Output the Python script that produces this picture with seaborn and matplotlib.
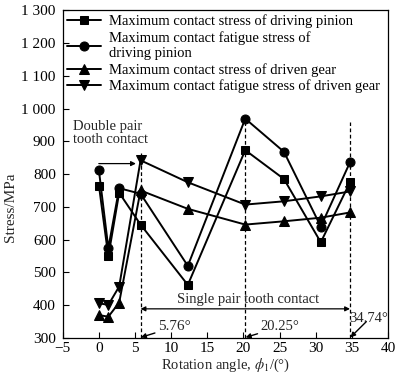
import matplotlib
matplotlib.use("Agg")
import matplotlib.pyplot as plt
import seaborn as sns
import pandas as pd
from matplotlib.ticker import FixedLocator, FixedFormatter

sns.set_theme(style="ticks")
plt.rcParams['font.family'] = ['Liberation Serif', 'DejaVu Serif']
plt.rcParams['mathtext.fontset'] = 'stix'

# ---- data ----
angles = [0, 1.3, 2.8, 5.76, 12.3, 20.25, 25.6, 30.7, 34.74]
pinion_contact = [765, 549, 743, 646, 462, 873, 785, 592, 775]
pinion_fatigue = [811, 574, 757, 740, 520, 969, 868, 640, 836]
gear_contact = [370, 365, 408, 750, 694, 646, 656, 667, 683]
gear_fatigue = [406, 401, 457, 842, 775, 707, 717, 732, 747]

labels = [
    "Maximum contact stress of driving pinion",
    "Maximum contact fatigue stress of\ndriving pinion",
    "Maximum contact stress of driven gear",
    "Maximum contact fatigue stress of driven gear",
]
markers = ["s", "o", "^", "v"]
msizes = [5.5, 6.5, 7, 7]
series = [pinion_contact, pinion_fatigue, gear_contact, gear_fatigue]

boundary_angles = [5.76, 20.25, 34.74]
boundary_tops = [868, 969, 960]
boundary_labels = ["5.76°", "20.25°", "34.74°"]

yticks = [300, 400, 500, 600, 700, 800, 900, 1000, 1100, 1200, 1300]
ytick_labels = ["300", "400", "500", "600", "700", "800", "900",
                "1 000", "1 100", "1 200", "1 300"]
xticks = [-5, 0, 5, 10, 15, 20, 25, 30, 35, 40]

fig = plt.figure(figsize=(4.0, 3.76), dpi=100)
ax = fig.add_axes([0.157, 0.101, 0.813, 0.872])

for vals, lab, mk, ms in zip(series, labels, markers, msizes):
    df = pd.DataFrame({"angle": angles, "stress": vals})
    sns.lineplot(data=df, x="angle", y="stress", ax=ax, color="black",
                 marker=mk, markersize=ms, markeredgecolor="black",
                 linewidth=1.4, label=lab, sort=False)

# dashed boundaries
for xa, top in zip(boundary_angles, boundary_tops):
    ax.plot([xa, xa], [300, top], color="black", linestyle=(0, (3, 2)),
            linewidth=0.9, zorder=1)

fs = 10.5
# Double pair annotation
ax.text(-3.6, 964, "Double pair\ntooth contact", fontsize=fs, va="top", ha="left",
        linespacing=1.0)
ax.annotate("", xy=(5.5, 832), xytext=(-0.4, 832),
            arrowprops=dict(arrowstyle="-|>", color="black", lw=0.9,
                            mutation_scale=7))
# Single pair annotation
ax.annotate("", xy=(5.76, 389), xytext=(34.74, 389),
            arrowprops=dict(arrowstyle="<|-|>", color="black", lw=0.9,
                            mutation_scale=7, shrinkA=0, shrinkB=0))
ax.text(20.6, 397, "Single pair tooth contact", fontsize=fs, ha="center", va="bottom")

# angle labels with arrows
ax.annotate(boundary_labels[0], xy=(5.8, 302), xytext=(8.2, 334),
            fontsize=11, va="center", ha="left",
            arrowprops=dict(arrowstyle="-|>", color="black", lw=1.0,
                            mutation_scale=7, shrinkA=0, shrinkB=0))
ax.annotate(boundary_labels[1], xy=(20.3, 302), xytext=(22.4, 334),
            fontsize=fs, va="center", ha="left",
            arrowprops=dict(arrowstyle="-|>", color="black", lw=1.0,
                            mutation_scale=7, shrinkA=0, shrinkB=0))
ax.annotate("", xy=(34.8, 302), xytext=(37.0, 350),
            arrowprops=dict(arrowstyle="-|>", color="black", lw=1.0,
                            mutation_scale=7, shrinkA=0, shrinkB=0))
ax.text(34.6, 360, boundary_labels[2], fontsize=fs, ha="left", va="center")

ax.set_xlim(-5, 40)
ax.set_ylim(300, 1300)
ax.xaxis.set_major_locator(FixedLocator(xticks))
ax.yaxis.set_major_locator(FixedLocator(yticks))
ax.yaxis.set_major_formatter(FixedFormatter(ytick_labels))
ax.tick_params(direction="in", length=4, width=0.8, labelsize=11,
               colors="black")
ax.tick_params(axis="y", pad=5)
ax.tick_params(axis="x", pad=3)
for s in ax.spines.values():
    s.set_visible(True)
    s.set_color("black")
    s.set_linewidth(0.9)
ax.set_xlabel(r"Rotation angle, $\phi_1$/(°)", fontsize=fs, labelpad=1)
ax.set_ylabel("Stress/MPa", fontsize=11)
ax.yaxis.set_label_coords(-0.142, 0.40)

leg = ax.legend(loc="upper left", bbox_to_anchor=(0.0, 1.0), frameon=False,
                fontsize=fs, handlelength=2.3, handletextpad=0.6,
                labelspacing=0.2, borderaxespad=0.2, borderpad=0.1)
for t in leg.get_texts():
    t.set_color("black")

fig.savefig("out.png", dpi=100, facecolor="white")
